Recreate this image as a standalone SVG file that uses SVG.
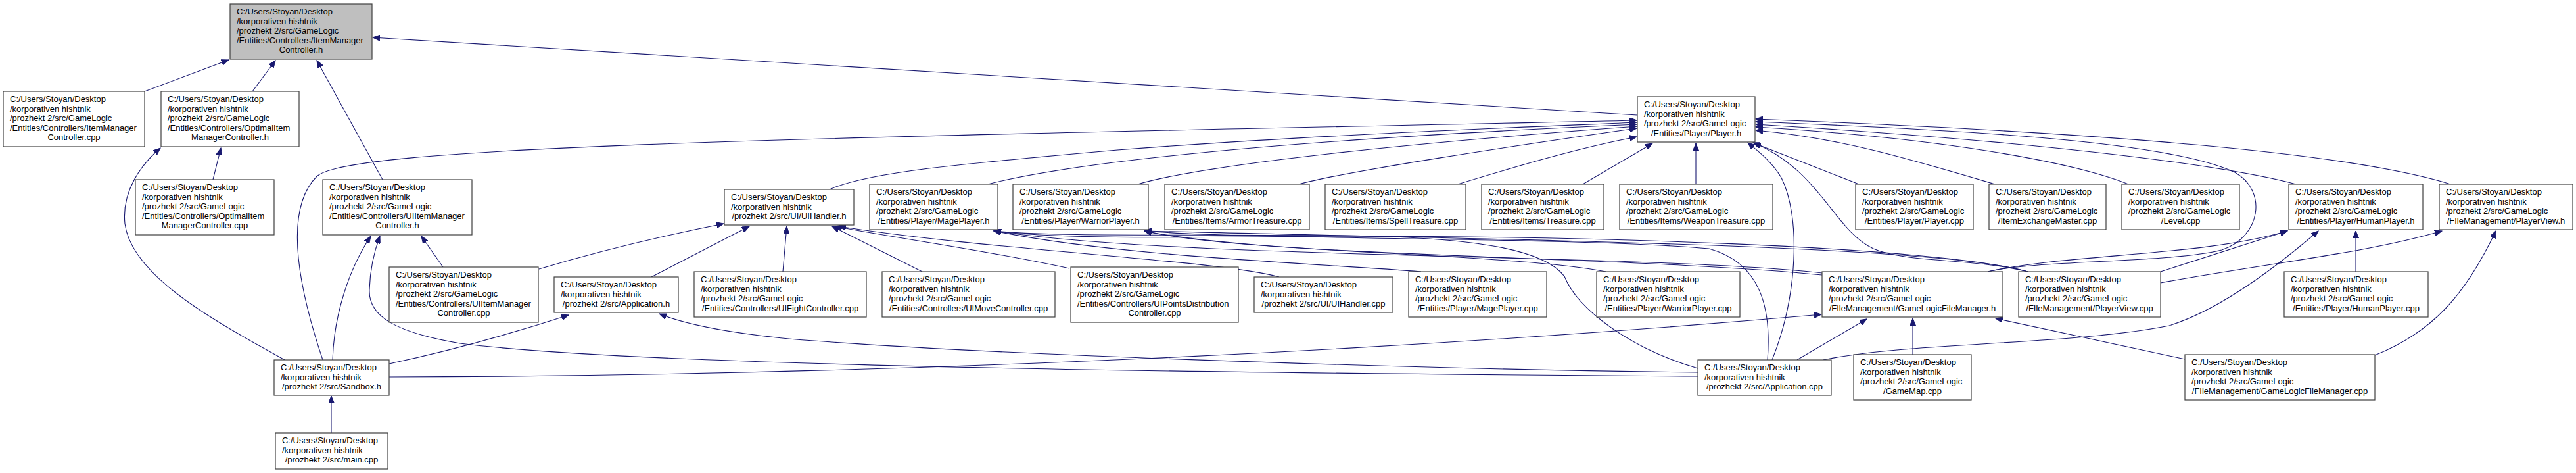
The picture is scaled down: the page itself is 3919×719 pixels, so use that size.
<svg xmlns="http://www.w3.org/2000/svg" width="3919" height="719" viewBox="0 0 3919 719">
<style>
.node rect{fill:#fff;stroke:#404040;stroke-width:1.2}
.root rect{fill:#bfbfbf}
text{font-family:"Liberation Sans",Arial,sans-serif;font-size:13px;fill:#000}
.c{text-anchor:middle}
.edges path{fill:none;stroke:#191970;stroke-width:1.1;marker-end:url(#ah)}
</style>
<defs>
<marker id="ah" markerWidth="12" markerHeight="9" refX="11" refY="4.5" orient="auto" markerUnits="userSpaceOnUse"><path d="M0,0 L11,4.5 L0,9 z" fill="#191970" stroke="#191970" stroke-width="1"/></marker>
</defs>
<rect width="3919" height="719" fill="#fff"/>
<g class="edges">
<path d="M220,139 L348,91"/>
<path d="M384,139 L419,92"/>
<path d="M582,273 L482,92"/>
<path d="M2491,175 L567,57"/>
<path d="M324,273 L336,225"/>
<path d="M433,547 C330,490 200,420 190,340 C185,290 215,250 244,225"/>
<path d="M674,406 L641,359"/>
<path d="M506,547 C508,480 530,410 564,359"/>
<path d="M2583,572 C2000,568 1000,560 700,522 C600,505 560,480 562,440 C563,410 570,380 578,359"/>
<path d="M504,658 L504,602"/>
<path d="M491,547 C455,440 430,320 482,268 C530,222 1200,210 2490,183"/>
<path d="M592,553 C700,530 800,500 865,479"/>
<path d="M592,573 C1200,572 2000,545 2771,478"/>
<path d="M2583,566 C2200,562 1500,540 1200,515 C1100,505 1040,492 1003,477"/>
<path d="M1262,288 C1320,262 1450,250 1700,228 C2000,205 2300,194 2490,186"/>
<path d="M1503,280 C1620,250 1900,215 2490,189"/>
<path d="M1731,280 C1800,260 2000,228 2490,192"/>
<path d="M1976,280 C2050,260 2300,222 2490,195"/>
<path d="M2218,280 C2300,255 2400,225 2490,208"/>
<path d="M2408,280 L2514,218"/>
<path d="M2580,280 L2580,218"/>
<path d="M2828,280 L2667,217"/>
<path d="M3035,280 C2900,240 2800,210 2671,198"/>
<path d="M3238,280 C3150,245 2950,210 2671,193"/>
<path d="M3493,280 C3400,255 3150,218 2671,189"/>
<path d="M3728,280 C3600,240 3300,205 2671,181"/>
<path d="M3024,413 C3100,395 3300,400 3380,380 C3440,360 3450,290 3400,262 C3300,215 3000,198 2671,185"/>
<path d="M3085,413 C3000,392 2900,400 2850,378 C2790,350 2770,260 2668,217"/>
<path d="M2696,547 C2735,450 2740,330 2710,270 C2695,245 2675,230 2659,217"/>
<path d="M3024,413 C3150,385 3350,390 3480,351"/>
<path d="M3287,413 L3480,351"/>
<path d="M2774,547 C2900,520 3150,525 3300,495 C3380,470 3470,400 3527,351"/>
<path d="M3584,413 L3584,351"/>
<path d="M3287,430 C3450,400 3600,385 3715,351"/>
<path d="M3613,540 C3700,505 3750,450 3797,351"/>
<path d="M2910,539 L2910,484"/>
<path d="M2734,547 L2840,485"/>
<path d="M3324,546 L3036,484"/>
<path d="M991,421 L1140,344"/>
<path d="M820,409 C900,385 1000,360 1101,340"/>
<path d="M1191,413 L1197,344"/>
<path d="M1403,413 L1266,344"/>
<path d="M1627,408 C1500,380 1350,360 1270,344"/>
<path d="M1946,421 C1850,395 1500,380 1276,344"/>
<path d="M2162,413 C2000,400 1700,390 1512,351"/>
<path d="M2772,415 C2500,385 1800,395 1512,351"/>
<path d="M3085,413 C2950,375 2400,355 1900,360 C1700,362 1580,360 1512,351"/>
<path d="M2583,560 C2480,530 2400,470 2380,420 C2350,380 2250,360 2030,358 C1800,356 1600,360 1512,351"/>
<path d="M2443,413 C2300,385 1900,385 1741,351"/>
<path d="M2772,418 C2500,390 1900,390 1741,351"/>
<path d="M3085,413 C2950,372 2300,365 1741,351"/>
<path d="M2689,547 C2695,470 2680,400 2600,378 C2400,360 1900,365 1741,351"/>
</g>
<g id="n_imc_h" class="node root"><rect x="350" y="6" width="216" height="84"/><text x="360" y="22">C:/Users/Stoyan/Desktop</text><text x="360" y="36.6">/korporativen hishtnik</text><text x="360" y="51.2">/prozhekt 2/src/GameLogic</text><text x="360" y="65.8">/Entities/Controllers/ItemManager</text><text class="c" x="458" y="80.4">Controller.h</text></g>
<g id="n_imc_cpp" class="node"><rect x="5" y="139" width="215" height="84"/><text x="15" y="155">C:/Users/Stoyan/Desktop</text><text x="15" y="169.6">/korporativen hishtnik</text><text x="15" y="184.2">/prozhekt 2/src/GameLogic</text><text x="15" y="198.8">/Entities/Controllers/ItemManager</text><text class="c" x="112.5" y="213.4">Controller.cpp</text></g>
<g id="n_oimc_h" class="node"><rect x="245" y="139" width="210" height="84"/><text x="255" y="155">C:/Users/Stoyan/Desktop</text><text x="255" y="169.6">/korporativen hishtnik</text><text x="255" y="184.2">/prozhekt 2/src/GameLogic</text><text x="255" y="198.8">/Entities/Controllers/OptimalItem</text><text class="c" x="350" y="213.4">ManagerController.h</text></g>
<g id="n_oimc_cpp" class="node"><rect x="206" y="273" width="211" height="84"/><text x="216" y="289">C:/Users/Stoyan/Desktop</text><text x="216" y="303.6">/korporativen hishtnik</text><text x="216" y="318.2">/prozhekt 2/src/GameLogic</text><text x="216" y="332.8">/Entities/Controllers/OptimalItem</text><text class="c" x="311.5" y="347.4">ManagerController.cpp</text></g>
<g id="n_uiimc_h" class="node"><rect x="491" y="273" width="227" height="84"/><text x="501" y="289">C:/Users/Stoyan/Desktop</text><text x="501" y="303.6">/korporativen hishtnik</text><text x="501" y="318.2">/prozhekt 2/src/GameLogic</text><text x="501" y="332.8">/Entities/Controllers/UIItemManager</text><text class="c" x="604.5" y="347.4">Controller.h</text></g>
<g id="n_uiimc_cpp" class="node"><rect x="592" y="406" width="227" height="84"/><text x="602" y="422">C:/Users/Stoyan/Desktop</text><text x="602" y="436.6">/korporativen hishtnik</text><text x="602" y="451.2">/prozhekt 2/src/GameLogic</text><text x="602" y="465.8">/Entities/Controllers/UIItemManager</text><text class="c" x="705.5" y="480.4">Controller.cpp</text></g>
<g id="n_sandbox_h" class="node"><rect x="417" y="547" width="175" height="54"/><text x="427" y="563">C:/Users/Stoyan/Desktop</text><text x="427" y="577.6">/korporativen hishtnik</text><text class="c" x="504.5" y="592.2">/prozhekt 2/src/Sandbox.h</text></g>
<g id="n_main_cpp" class="node"><rect x="419" y="658" width="171" height="55"/><text x="429" y="674">C:/Users/Stoyan/Desktop</text><text x="429" y="688.6">/korporativen hishtnik</text><text class="c" x="504.5" y="703.2">/prozhekt 2/src/main.cpp</text></g>
<g id="n_uihandler_h" class="node"><rect x="1102" y="288" width="197" height="54"/><text x="1112" y="304">C:/Users/Stoyan/Desktop</text><text x="1112" y="318.6">/korporativen hishtnik</text><text class="c" x="1200.5" y="333.2">/prozhekt 2/src/UI/UIHandler.h</text></g>
<g id="n_application_h" class="node"><rect x="843" y="421" width="189" height="54"/><text x="853" y="437">C:/Users/Stoyan/Desktop</text><text x="853" y="451.6">/korporativen hishtnik</text><text class="c" x="937.5" y="466.2">/prozhekt 2/src/Application.h</text></g>
<g id="n_uifight_cpp" class="node"><rect x="1056" y="413" width="262" height="69"/><text x="1066" y="429">C:/Users/Stoyan/Desktop</text><text x="1066" y="443.6">/korporativen hishtnik</text><text x="1066" y="458.2">/prozhekt 2/src/GameLogic</text><text class="c" x="1187" y="472.8">/Entities/Controllers/UIFightController.cpp</text></g>
<g id="n_uimove_cpp" class="node"><rect x="1342" y="413" width="263" height="69"/><text x="1352" y="429">C:/Users/Stoyan/Desktop</text><text x="1352" y="443.6">/korporativen hishtnik</text><text x="1352" y="458.2">/prozhekt 2/src/GameLogic</text><text class="c" x="1473.5" y="472.8">/Entities/Controllers/UIMoveController.cpp</text></g>
<g id="n_uipoints_cpp" class="node"><rect x="1629" y="406" width="255" height="84"/><text x="1639" y="422">C:/Users/Stoyan/Desktop</text><text x="1639" y="436.6">/korporativen hishtnik</text><text x="1639" y="451.2">/prozhekt 2/src/GameLogic</text><text x="1639" y="465.8">/Entities/Controllers/UIPointsDistribution</text><text class="c" x="1756.5" y="480.4">Controller.cpp</text></g>
<g id="n_uihandler_cpp" class="node"><rect x="1908" y="421" width="211" height="54"/><text x="1918" y="437">C:/Users/Stoyan/Desktop</text><text x="1918" y="451.6">/korporativen hishtnik</text><text class="c" x="2013.5" y="466.2">/prozhekt 2/src/UI/UIHandler.cpp</text></g>
<g id="n_mageplayer_h" class="node"><rect x="1323" y="280" width="195" height="69"/><text x="1333" y="296">C:/Users/Stoyan/Desktop</text><text x="1333" y="310.6">/korporativen hishtnik</text><text x="1333" y="325.2">/prozhekt 2/src/GameLogic</text><text class="c" x="1420.5" y="339.8">/Entities/Player/MagePlayer.h</text></g>
<g id="n_warriorplayer_h" class="node"><rect x="1541" y="280" width="206" height="69"/><text x="1551" y="296">C:/Users/Stoyan/Desktop</text><text x="1551" y="310.6">/korporativen hishtnik</text><text x="1551" y="325.2">/prozhekt 2/src/GameLogic</text><text class="c" x="1644" y="339.8">/Entities/Player/WarriorPlayer.h</text></g>
<g id="n_armortreasure_cpp" class="node"><rect x="1772" y="280" width="220" height="69"/><text x="1782" y="296">C:/Users/Stoyan/Desktop</text><text x="1782" y="310.6">/korporativen hishtnik</text><text x="1782" y="325.2">/prozhekt 2/src/GameLogic</text><text class="c" x="1882" y="339.8">/Entities/Items/ArmorTreasure.cpp</text></g>
<g id="n_spelltreasure_cpp" class="node"><rect x="2016" y="280" width="214" height="69"/><text x="2026" y="296">C:/Users/Stoyan/Desktop</text><text x="2026" y="310.6">/korporativen hishtnik</text><text x="2026" y="325.2">/prozhekt 2/src/GameLogic</text><text class="c" x="2123" y="339.8">/Entities/Items/SpellTreasure.cpp</text></g>
<g id="n_treasure_cpp" class="node"><rect x="2254" y="280" width="186" height="69"/><text x="2264" y="296">C:/Users/Stoyan/Desktop</text><text x="2264" y="310.6">/korporativen hishtnik</text><text x="2264" y="325.2">/prozhekt 2/src/GameLogic</text><text class="c" x="2347" y="339.8">/Entities/Items/Treasure.cpp</text></g>
<g id="n_weapontreasure_cpp" class="node"><rect x="2464" y="280" width="233" height="69"/><text x="2474" y="296">C:/Users/Stoyan/Desktop</text><text x="2474" y="310.6">/korporativen hishtnik</text><text x="2474" y="325.2">/prozhekt 2/src/GameLogic</text><text class="c" x="2580.5" y="339.8">/Entities/Items/WeaponTreasure.cpp</text></g>
<g id="n_player_h" class="node"><rect x="2491" y="147" width="179" height="69"/><text x="2501" y="163">C:/Users/Stoyan/Desktop</text><text x="2501" y="177.6">/korporativen hishtnik</text><text x="2501" y="192.2">/prozhekt 2/src/GameLogic</text><text class="c" x="2580.5" y="206.8">/Entities/Player/Player.h</text></g>
<g id="n_player_cpp" class="node"><rect x="2823" y="280" width="179" height="69"/><text x="2833" y="296">C:/Users/Stoyan/Desktop</text><text x="2833" y="310.6">/korporativen hishtnik</text><text x="2833" y="325.2">/prozhekt 2/src/GameLogic</text><text class="c" x="2912.5" y="339.8">/Entities/Player/Player.cpp</text></g>
<g id="n_itemexchange_cpp" class="node"><rect x="3026" y="280" width="178" height="69"/><text x="3036" y="296">C:/Users/Stoyan/Desktop</text><text x="3036" y="310.6">/korporativen hishtnik</text><text x="3036" y="325.2">/prozhekt 2/src/GameLogic</text><text class="c" x="3115" y="339.8">/ItemExchangeMaster.cpp</text></g>
<g id="n_level_cpp" class="node"><rect x="3228" y="280" width="179" height="69"/><text x="3238" y="296">C:/Users/Stoyan/Desktop</text><text x="3238" y="310.6">/korporativen hishtnik</text><text x="3238" y="325.2">/prozhekt 2/src/GameLogic</text><text class="c" x="3317.5" y="339.8">/Level.cpp</text></g>
<g id="n_humanplayer_h" class="node"><rect x="3482" y="280" width="204" height="69"/><text x="3492" y="296">C:/Users/Stoyan/Desktop</text><text x="3492" y="310.6">/korporativen hishtnik</text><text x="3492" y="325.2">/prozhekt 2/src/GameLogic</text><text class="c" x="3584" y="339.8">/Entities/Player/HumanPlayer.h</text></g>
<g id="n_playerview_h" class="node"><rect x="3711" y="280" width="203" height="69"/><text x="3721" y="296">C:/Users/Stoyan/Desktop</text><text x="3721" y="310.6">/korporativen hishtnik</text><text x="3721" y="325.2">/prozhekt 2/src/GameLogic</text><text class="c" x="3812.5" y="339.8">/FIleManagement/PlayerView.h</text></g>
<g id="n_mageplayer_cpp" class="node"><rect x="2143" y="413" width="210" height="69"/><text x="2153" y="429">C:/Users/Stoyan/Desktop</text><text x="2153" y="443.6">/korporativen hishtnik</text><text x="2153" y="458.2">/prozhekt 2/src/GameLogic</text><text class="c" x="2248" y="472.8">/Entities/Player/MagePlayer.cpp</text></g>
<g id="n_warriorplayer_cpp" class="node"><rect x="2429" y="413" width="218" height="69"/><text x="2439" y="429">C:/Users/Stoyan/Desktop</text><text x="2439" y="443.6">/korporativen hishtnik</text><text x="2439" y="458.2">/prozhekt 2/src/GameLogic</text><text class="c" x="2538" y="472.8">/Entities/Player/WarriorPlayer.cpp</text></g>
<g id="n_glfm_h" class="node"><rect x="2772" y="413" width="275" height="69"/><text x="2782" y="429">C:/Users/Stoyan/Desktop</text><text x="2782" y="443.6">/korporativen hishtnik</text><text x="2782" y="458.2">/prozhekt 2/src/GameLogic</text><text class="c" x="2909.5" y="472.8">/FIleManagement/GameLogicFileManager.h</text></g>
<g id="n_playerview_cpp" class="node"><rect x="3071" y="413" width="216" height="69"/><text x="3081" y="429">C:/Users/Stoyan/Desktop</text><text x="3081" y="443.6">/korporativen hishtnik</text><text x="3081" y="458.2">/prozhekt 2/src/GameLogic</text><text class="c" x="3179" y="472.8">/FIleManagement/PlayerView.cpp</text></g>
<g id="n_humanplayer_cpp" class="node"><rect x="3475" y="413" width="219" height="69"/><text x="3485" y="429">C:/Users/Stoyan/Desktop</text><text x="3485" y="443.6">/korporativen hishtnik</text><text x="3485" y="458.2">/prozhekt 2/src/GameLogic</text><text class="c" x="3584.5" y="472.8">/Entities/Player/HumanPlayer.cpp</text></g>
<g id="n_application_cpp" class="node"><rect x="2583" y="547" width="203" height="54"/><text x="2593" y="563">C:/Users/Stoyan/Desktop</text><text x="2593" y="577.6">/korporativen hishtnik</text><text class="c" x="2684.5" y="592.2">/prozhekt 2/src/Application.cpp</text></g>
<g id="n_gamemap_cpp" class="node"><rect x="2820" y="539" width="179" height="69"/><text x="2830" y="555">C:/Users/Stoyan/Desktop</text><text x="2830" y="569.6">/korporativen hishtnik</text><text x="2830" y="584.2">/prozhekt 2/src/GameLogic</text><text class="c" x="2909.5" y="598.8">/GameMap.cpp</text></g>
<g id="n_glfm_cpp" class="node"><rect x="3324" y="539" width="289" height="69"/><text x="3334" y="555">C:/Users/Stoyan/Desktop</text><text x="3334" y="569.6">/korporativen hishtnik</text><text x="3334" y="584.2">/prozhekt 2/src/GameLogic</text><text class="c" x="3468.5" y="598.8">/FIleManagement/GameLogicFileManager.cpp</text></g>
</svg>
